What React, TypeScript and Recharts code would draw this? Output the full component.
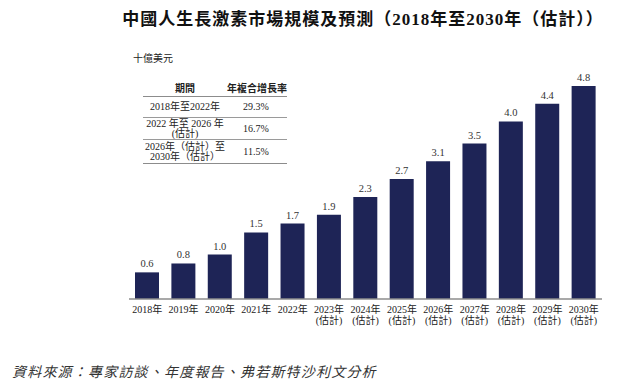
import { BarChart, Bar, XAxis, YAxis, LabelList } from "recharts";

const years = ["2018", "2019", "2020", "2021", "2022", "2023", "2024", "2025", "2026", "2027", "2028", "2029", "2030"];
const estimated = [false, false, false, false, false, true, true, true, true, true, true, true, true];
const marketSize = [0.6, 0.8, 1.0, 1.5, 1.7, 1.9, 2.3, 2.7, 3.1, 3.5, 4.0, 4.4, 4.8];

const cagrPeriods = [
  ["2018年至2022年"],
  ["2022 年至 2026 年", "(估計)"],
  ["2026年（估計）至", "2030年（估計）"],
];
const cagrValues = ["29.3%", "16.7%", "11.5%"];

const data = years.map((y, i) => ({
  year: y,
  est: estimated[i],
  value: marketSize[i],
}));

const SERIF = "'Liberation Serif', 'Noto Sans CJK TC', serif";
const NAVY = "#1e2456";

const YearTick = (props: any) => {
  const { x, y, payload, index } = props;
  const est = estimated[index ?? 0];
  return (
    <g transform={`translate(${x},${y})`}>
      <text textAnchor="middle" fontFamily={SERIF} fontSize={10} fill="#222">
        <tspan x={0} dy={6}>{payload.value}年</tspan>
        {est && <tspan x={0} dy={10.5}>(估計)</tspan>}
      </text>
    </g>
  );
};

const fmt = (v: any) => Number(v).toFixed(1);

export default function App() {
  const rowTops = [96, 117, 139];
  const rowHeights = [21, 22, 25];
  return (
    <div style={{ position: "absolute", left: 0, top: 0, width: 626, height: 389, background: "#fff" }}>
      <div
        style={{
          position: "absolute",
          left: 0,
          width: 626,
          top: 5,
          textAlign: "center",
          paddingLeft: 100,
          boxSizing: "border-box",
          fontFamily: SERIF,
          fontSize: 17,
          fontWeight: 700,
          color: "#111",
          letterSpacing: 1,
          whiteSpace: "nowrap",
        }}
      >
        中國人生長激素市場規模及預測（2018年至2030年（估計））
      </div>
      <div style={{ position: "absolute", left: 133, top: 50, fontFamily: SERIF, fontSize: 10, color: "#222" }}>
        十億美元
      </div>

      <BarChart
        width={626}
        height={389}
        data={data}
        margin={{ top: 77, right: 24, left: 129, bottom: 60 }}
        barSize={24}
      >
        <YAxis hide domain={[0, 5]} />
        <XAxis
          dataKey="year"
          height={30}
          interval={0}
          tickLine={false}
          axisLine={{ stroke: "#8c8c8c", strokeWidth: 1.5 }}
          tick={<YearTick />}
        />
        <Bar dataKey="value" fill={NAVY} isAnimationActive={false}>
          <LabelList
            dataKey="value"
            position="top"
            offset={5}
            formatter={fmt}
            style={{ fontFamily: SERIF, fontSize: 10.5, fill: "#333" }}
          />
        </Bar>
      </BarChart>

      {/* CAGR table */}
      <div style={{ position: "absolute", left: 143, top: 80, width: 144, height: 14, fontFamily: "'Noto Sans CJK TC', sans-serif", fontSize: 10, fontWeight: 700, color: "#222", whiteSpace: "nowrap" }}>
        <span style={{ position: "absolute", left: 32 }}>期間</span>
        <span style={{ position: "absolute", left: 84 }}>年複合增長率</span>
      </div>
      {rowTops.map((t, i) => (
        <div
          key={i}
          style={{
            position: "absolute",
            left: 143,
            top: t,
            width: 144,
            height: rowHeights[i],
            boxSizing: "border-box",
            borderTop: i === 0 ? "1.5px solid #8c8c8c" : "1px solid #9a9a9a",
            borderBottom: i === 2 ? "1.5px solid #8c8c8c" : "none",
            fontFamily: SERIF,
            fontSize: 10,
            color: "#222",
            whiteSpace: "nowrap",
          }}
        >
          <div
            style={{
              position: "absolute",
              left: 0,
              width: 84,
              top: "50%",
              transform: "translateY(-50%)",
              textAlign: "center",
              lineHeight: "10px",
            }}
          >
            {cagrPeriods[i].map((l, j) => (
              <div key={j}>{l}</div>
            ))}
          </div>
          <div
            style={{
              position: "absolute",
              left: 93,
              width: 40,
              top: "50%",
              transform: "translateY(-50%)",
              textAlign: "center",
              lineHeight: "12px",
            }}
          >
            {cagrValues[i]}
          </div>
        </div>
      ))}

      <div
        style={{
          position: "absolute",
          left: 12,
          top: 361,
          fontFamily: SERIF,
          fontSize: 14,
          fontStyle: "italic",
          color: "#333",
          letterSpacing: 1.2,
          whiteSpace: "nowrap",
        }}
      >
        資料來源：專家訪談、年度報告、弗若斯特沙利文分析
      </div>
    </div>
  );
}
